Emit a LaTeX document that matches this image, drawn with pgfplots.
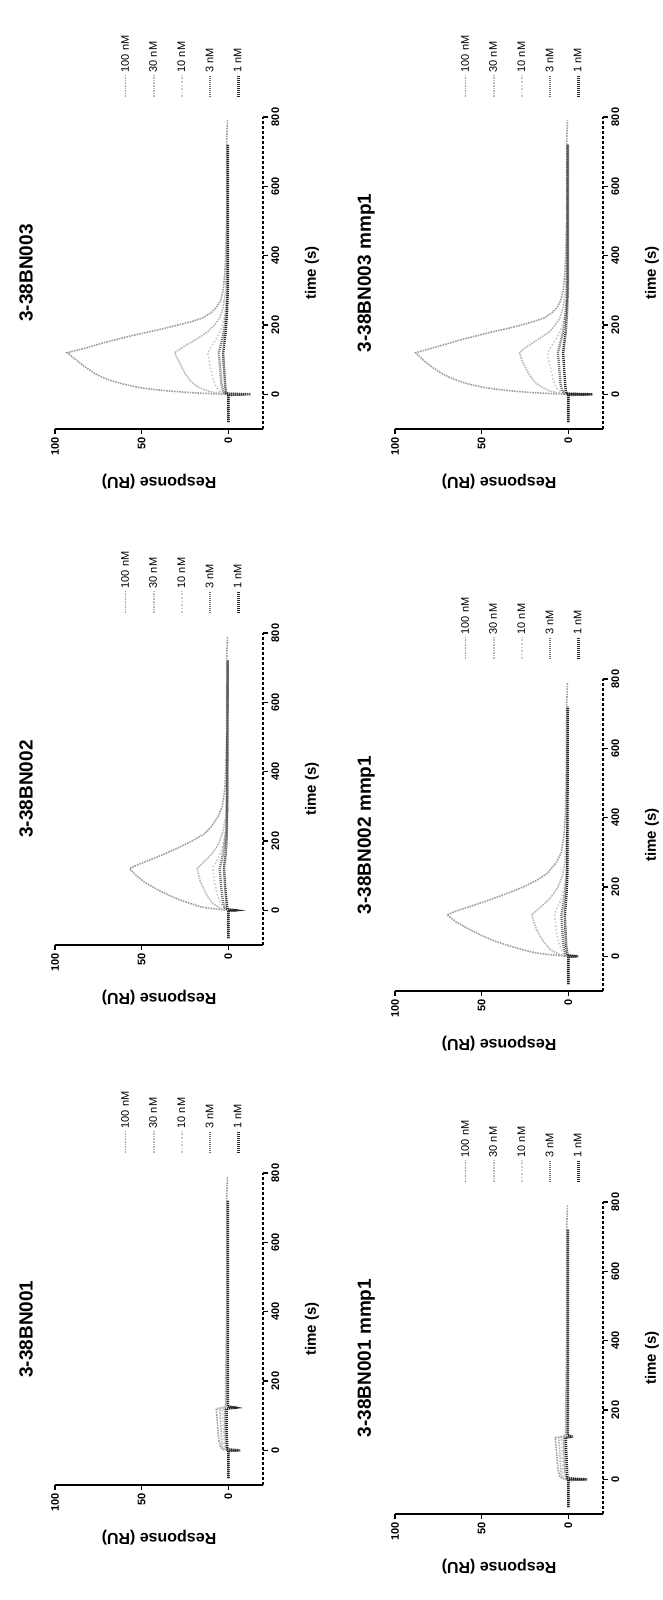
\documentclass[border=0pt]{standalone}
\usepackage{pgfplots}
\pgfplotsset{compat=1.18}
\usepackage{fontspec}
\setmainfont{Liberation Sans}
\pgfplotsset{
  c100/.style={gray!75, densely dotted, line width=1.6pt},
  c30/.style={gray!55, densely dotted, line width=1.6pt},
  c10/.style={gray!40, dotted, line width=1.6pt},
  c3/.style={black!55, line width=2.4pt, dash pattern=on 1pt off 1pt},
  c1/.style={black!85, line width=2.4pt, dash pattern=on 1pt off 1pt},
  spr/.style={
    scale only axis, width=312pt, height=208pt, anchor=south west,
    xmin=-100, xmax=800, ymin=-20, ymax=100,
    axis x line*=bottom, axis y line*=left,
    xtick={0,200,400,600,800}, ytick={0,50,100},
    tick align=outside, major tick length=5pt,
    tick style={black, line width=1.2pt},
    x axis line style={black, line width=1.3pt, densely dashed},
    y axis line style={black, line width=2.6pt},
    ticklabel style={font=\fontsize{11}{13}\selectfont\bfseries},
    /pgf/number format/assume math mode=true,
    xlabel={time (s)}, ylabel={Response (RU)},
    xlabel style={font=\fontsize{15}{17}\selectfont\bfseries, at={(axis description cs:0.5,-0.235)}, anchor=center},
    ylabel style={font=\fontsize{16}{18}\selectfont\bfseries, at={(axis description cs:-0.17,0.5)}, anchor=center},
    title style={font=\fontsize{19}{21}\selectfont\bfseries, at={(axis description cs:0.5,1.11)}, anchor=center},
    legend style={at={(axis description cs:1.05,0.70)}, anchor=north west, draw=none, fill=none,
      font=\fontsize{11}{12}\selectfont, row sep=16pt, nodes={inner sep=1.5pt}},
    legend cell align=left,
    legend image code/.code={\draw[##1] (0pt,0pt) -- (22pt,0pt);},
    legend entries={100 nM,30 nM,10 nM,3 nM,1 nM},
  }
}
\begin{document}
\begin{tikzpicture}[rotate=90, transform shape]
\path (0pt,0pt) rectangle (1600pt,663pt);

% ---------- top row (original frame) ----------
\begin{axis}[spr, at={(115pt,400pt)}, title={3-38BN001}]
\addplot[c100] coordinates {(-80,0)(-40,0.3)(-2,0)(2,3)(10,4.5)(30,5.5)(60,6)(90,6.5)(120,7)(125,2)(135,1.5)(200,1.5)(300,1.2)(400,1)(500,1)(600,1)(720,1)(790,0.5)};
\addplot[c30] coordinates {(-80,0)(-2,0)(2,2)(10,3.5)(40,4)(80,4.5)(120,5)(125,1)(200,1)(400,0.8)(720,0.8)};
\addplot[c10] coordinates {(-80,0)(-2,0)(2,1.5)(20,2.5)(60,3)(120,3.5)(125,0.5)(300,0.5)(720,0.5)};
\addplot[c3] coordinates {(-80,0)(-2,0)(0,-7)(3,1)(30,1.5)(120,2)(123,-5)(127,0.5)(300,0.3)(720,0.3)};
\addplot[c1] coordinates {(-80,0)(-2,0)(0,-6)(3,0.5)(60,1)(120,1)(123,-4)(127,0.2)(720,0.2)};
\end{axis}

\begin{axis}[spr, at={(655pt,400pt)}, title={3-38BN002}]
\addplot[c100] coordinates {(-80,0)(-40,0.5)(0,0)(3,6)(6,11)(10,16)(20,22)(30,28)(45,35)(60,41)(80,48)(100,53)(120,57)(130,53)(140,48)(160,38)(180,29)(200,21)(220,14)(240,10)(270,6)(300,3.5)(350,2)(400,1.5)(500,1)(720,1)(790,0.5)};
\addplot[c30] coordinates {(-80,0)(0,0)(5,4)(10,6)(20,9)(40,12)(60,14)(80,16)(100,17)(120,18)(140,14)(160,10)(180,7)(200,5)(230,3)(270,1.5)(350,1)(720,0.5)};
\addplot[c10] coordinates {(-80,0)(0,0)(5,2)(10,3)(20,4.5)(40,6)(60,7)(80,8)(100,8.5)(120,9)(140,7)(160,5)(180,3.5)(210,2)(260,1)(720,0.5)};
\addplot[c3] coordinates {(-80,0)(-2,0)(0,-5)(3,1.5)(20,3)(60,4)(120,5)(140,4)(180,2.5)(230,1.2)(300,0.6)(720,0.4)};
\addplot[c1] coordinates {(-80,0)(-2,0)(0,-4)(3,0.5)(30,1.2)(80,2)(120,2.5)(160,1.6)(220,0.8)(720,0.3)};
\end{axis}

\begin{axis}[spr, at={(1171pt,400pt)}, title={3-38BN003}]
\addplot[c100] coordinates {(-80,0)(-40,0.5)(0,0)(3,15)(6,25)(10,35)(15,45)(20,52)(30,61)(40,68)(50,73)(60,77)(80,83)(100,88)(120,93)(130,85)(140,78)(150,71)(160,63)(170,55)(180,46)(190,37)(200,29)(210,21)(220,15)(235,10)(250,7)(270,4.5)(300,3)(350,2)(400,1.5)(500,1)(600,1)(720,1)(790,0.5)};
\addplot[c30] coordinates {(-80,0)(0,0)(3,5)(6,9)(10,12)(20,17)(30,20)(40,22)(60,25)(80,27)(100,29)(120,31)(130,28)(140,25)(160,18)(180,12)(200,8)(220,5)(250,3)(300,1.5)(400,1)(720,0.5)};
\addplot[c10] coordinates {(-80,0)(0,0)(5,3)(10,5)(20,7)(40,8.5)(60,9.5)(80,10.5)(100,11)(120,12)(140,9.5)(160,7)(180,5)(200,3.5)(230,2)(270,1)(400,0.5)(720,0.5)};
\addplot[c3] coordinates {(-80,0)(-2,0)(0,-10)(2,2)(10,3)(30,4)(60,4.5)(90,5)(120,5.5)(140,4.5)(170,3)(200,2)(250,1)(300,0.5)(720,0.5)};
\addplot[c1] coordinates {(-80,0)(-2,0)(0,-13)(2,1)(10,1.5)(40,2)(80,2.5)(120,3)(140,2.5)(180,1.5)(230,0.8)(300,0.3)(720,0.3)};
\end{axis}

% ---------- bottom row (original frame) ----------
\begin{axis}[spr, at={(86pt,60pt)}, title={3-38BN001 mmp1}]
\addplot[c100] coordinates {(-80,0)(-40,0.3)(-2,0)(2,3.5)(10,5)(30,6)(60,6.5)(90,7)(120,7.5)(125,2)(135,1.5)(200,1.5)(300,1.2)(400,1)(600,1)(720,1)(790,0.5)};
\addplot[c30] coordinates {(-80,0)(-2,0)(2,2.5)(10,4)(40,4.5)(80,5)(120,5.5)(125,1)(200,1)(400,0.8)(720,0.8)};
\addplot[c10] coordinates {(-80,0)(-2,0)(2,1.5)(20,3)(60,3.5)(120,4)(125,0.5)(300,0.5)(720,0.5)};
\addplot[c3] coordinates {(-80,0)(-2,0)(0,-11)(3,1)(30,2)(120,2.5)(123,-3)(127,0.5)(300,0.3)(720,0.3)};
\addplot[c1] coordinates {(-80,0)(-2,0)(0,-10)(3,0.5)(60,1)(120,1.5)(123,-2)(127,0.2)(720,0.2)};
\end{axis}

\begin{axis}[spr, at={(609pt,60pt)}, title={3-38BN002 mmp1}]
\addplot[c100] coordinates {(-80,0)(-40,0.5)(0,0)(3,7)(6,13)(10,19)(20,27)(30,34)(45,43)(60,50)(80,58)(100,65)(120,70)(130,65)(140,59)(160,47)(180,36)(200,26)(220,18)(240,12)(270,7)(300,4)(350,2.5)(400,1.8)(500,1.2)(720,1)(790,0.5)};
\addplot[c30] coordinates {(-80,0)(0,0)(5,5)(10,7)(20,10.5)(40,14)(60,16.5)(80,18.5)(100,20)(120,21)(140,16.5)(160,12)(180,8.5)(200,6)(230,3.5)(270,2)(350,1)(720,0.8)};
\addplot[c10] coordinates {(-80,0)(0,0)(5,2)(10,3)(20,4)(40,5.5)(60,6.5)(80,7)(100,7.5)(120,8)(140,6.5)(160,4.5)(180,3.3)(210,2)(260,1)(720,0.6)};
\addplot[c3] coordinates {(-80,0)(-2,0)(0,-6)(3,1.5)(20,2.5)(60,3.3)(120,4)(140,3.2)(180,2)(230,1)(300,0.5)(720,0.4)};
\addplot[c1] coordinates {(-80,0)(-2,0)(0,-5)(3,0.5)(30,1.2)(80,1.7)(120,2)(160,1.3)(220,0.6)(720,0.3)};
\end{axis}

\begin{axis}[spr, at={(1171pt,60pt)}, title={3-38BN003 mmp1}]
\addplot[c100] coordinates {(-80,0)(-40,0.5)(0,0)(3,14)(6,24)(10,33)(15,42)(20,49)(30,58)(40,64)(50,69)(60,73)(80,79)(100,84)(120,88)(130,81)(140,74)(150,67)(160,60)(170,52)(180,44)(190,35)(200,27)(210,20)(220,14)(235,9.5)(250,6.5)(270,4.5)(300,3)(350,2)(400,1.5)(500,1)(600,1)(720,1)(790,0.5)};
\addplot[c30] coordinates {(-80,0)(0,0)(3,5)(6,8)(10,11)(20,15)(30,18)(40,20)(60,23)(80,25)(100,27)(120,28)(130,26)(140,23)(160,17)(180,11)(200,7.5)(220,5)(250,3)(300,1.5)(400,1)(720,0.5)};
\addplot[c10] coordinates {(-80,0)(0,0)(5,3)(10,5)(20,7)(40,8.5)(60,9.5)(80,10.5)(100,11.5)(120,12)(140,9.5)(160,7)(180,5)(200,3.5)(230,2)(270,1)(400,0.5)(720,0.5)};
\addplot[c3] coordinates {(-80,0)(-2,0)(0,-12)(2,2)(10,3.5)(30,4.5)(60,5)(90,5.5)(120,6)(140,5)(170,3.5)(200,2.3)(250,1.2)(300,0.6)(720,0.5)};
\addplot[c1] coordinates {(-80,0)(-2,0)(0,-14)(2,1)(10,1.5)(40,2)(80,2.5)(120,3)(140,2.5)(180,1.5)(230,0.8)(300,0.3)(720,0.3)};
\end{axis}
\end{tikzpicture}
\end{document}
